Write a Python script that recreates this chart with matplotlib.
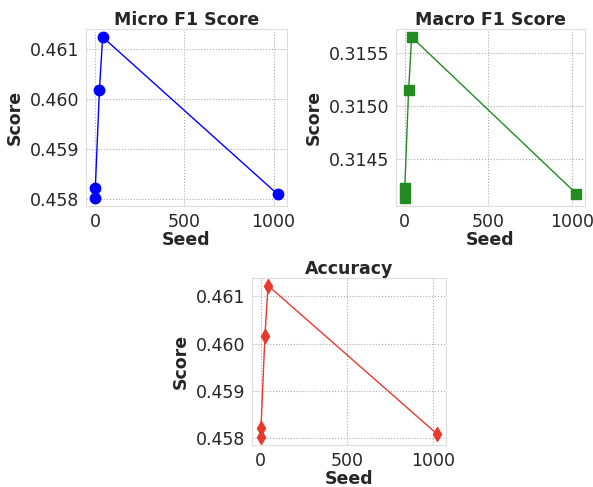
import numpy as np
import matplotlib
matplotlib.use('Agg')
import matplotlib.pyplot as plt
import seaborn as sns

# data
seeds = [0, 1, 24, 42, 1024]
micro_f1 = [0.45802, 0.45822, 0.46017, 0.46123, 0.45809]
macro_f1 = [0.31413, 0.31422, 0.31515, 0.31565, 0.31417]
accuracy = [0.45802, 0.45822, 0.46017, 0.46123, 0.45809]

sns.set_style('whitegrid', {'grid.linestyle': ':', 'axes.edgecolor': '#dddddd'})

fig = plt.figure(figsize=(5.93, 4.87), dpi=100)
ax1 = fig.add_axes([86/593, 1 - 206/487, 201/593, 177/487])
ax2 = fig.add_axes([396/593, 1 - 206/487, 189/593, 177/487])
ax3 = fig.add_axes([252/593, 1 - 445/487, 194/593, 167/487])

panels = [
  (ax1, micro_f1, 'blue', 'o', 'Micro F1 Score', '%.3f'),
  (ax2, macro_f1, 'forestgreen', 's', 'Macro F1 Score', '%.4f'),
  (ax3, accuracy, '#e8392f', 'd', 'Accuracy', '%.3f'),
]

for ax, vals, col, mk, title, fmt in panels:
  ax.plot(seeds, vals, color=col, marker=mk, markersize=7.5, linewidth=1)
  ax.set_title(title, fontsize=12.5, fontweight='bold', color='#262626', pad=3)
  ax.set_xlabel('Seed', fontsize=12.5, fontweight='bold', color='#262626', labelpad=0)
  ax.set_ylabel('Score', fontsize=12.5, fontweight='bold', color='#262626', labelpad=4)
  ax.tick_params(labelsize=12.5, colors='#262626', pad=1.5)
  ax.set_xticks([0, 500, 1000])
  ax.yaxis.set_major_formatter(matplotlib.ticker.FormatStrFormatter(fmt))
  ax.grid(color='#aaaaaa', linestyle=':', linewidth=0.8)
  for s in ax.spines.values():
    s.set_color('#dddddd')

ax1.set_yticks([0.458, 0.459, 0.460, 0.461])
ax3.set_yticks([0.458, 0.459, 0.460, 0.461])
ax2.set_yticks([0.3145, 0.3150, 0.3155])

fig.savefig('out.png', dpi=100)
